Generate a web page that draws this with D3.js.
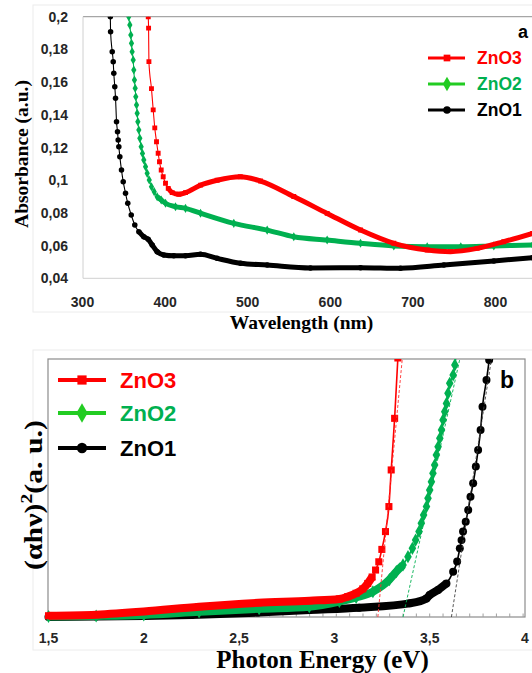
<!DOCTYPE html>
<html>
<head>
<meta charset="utf-8">
<script src="https://cdn.jsdelivr.net/npm/d3@7"></script>
<style>
  body { margin: 0; background: #fff; }
  svg { display: block; }
</style>
</head>
<body>
<script>

// ---- panel a : absorbance vs wavelength ----
const absTicks = [0.04, 0.06, 0.08, 0.1, 0.12, 0.14, 0.16, 0.18, 0.2];
const absTickLabels = ['0,04', '0,06', '0,08', '0,1', '0,12', '0,14', '0,16', '0,18', '0,2'];
const wlTicks = [300, 400, 500, 600, 700, 800];

// [wavelength nm, absorbance]
const zno3Abs = [[379.2,0.21],[379.6,0.2],[380,0.193],[380.4,0.1725],[383.5,0.156],[385.6,0.143],[387.5,0.132],
  [389.6,0.1235],[391.6,0.1165],[393.2,0.1113],[395.3,0.1062],[397.7,0.1021],[400.5,0.0981],[403.8,0.095],
  [408.6,0.0924],[416.6,0.0914],[424.7,0.0924],[443,0.097],[463,0.1],[491,0.1021],[515.5,0.0995],
  [555.8,0.09],[596.2,0.0797],[636.6,0.0695],[676.9,0.0614],[717.3,0.0573],[745.5,0.0563],[777.8,0.0583],
  [810,0.0624],[845,0.0675]];

const zno2Abs = [[355.6,0.207],[356,0.2],[357.3,0.195],[358.5,0.1888],[359.3,0.1837],[360.1,0.1786],[361.4,0.1735],
  [362.1,0.1674],[362.9,0.1613],[363.8,0.1562],[364.5,0.151],[365.4,0.146],[366.2,0.1409],[367,0.1358],
  [368.2,0.1307],[369.4,0.1256],[371,0.1205],[372.6,0.1164],[374.2,0.1124],[376.3,0.1083],[378.3,0.1042],
  [380.8,0.1001],[383.5,0.096],[386.8,0.093],[390.4,0.0899],[395.3,0.0879],[400.5,0.0859],[412.6,0.0838],
  [424.7,0.0828],[442.9,0.0798],[483.2,0.0736],[523.6,0.0695],[555.8,0.0654],[596.2,0.0634],[636.6,0.0614],
  [676.9,0.0598],[717.3,0.0593],[758,0.0593],[798,0.0598],[845,0.0604]];

const zno1Abs = [[333.4,0.208],[333.7,0.2],[334,0.1908],[336,0.1786],[337.2,0.1725],[337.9,0.1654],[339.1,0.1572],
  [340,0.1501],[341.2,0.1358],[342.4,0.1297],[343.2,0.1246],[344,0.1205],[345.2,0.1144],[347.2,0.1062],
  [349.3,0.0991],[352.1,0.092],[354.8,0.0859],[359,0.0787],[363.3,0.0726],[368.2,0.0685],[374.2,0.0654],
  [379.5,0.0639],[384.4,0.0604],[390.4,0.0563],[398.4,0.0543],[410.5,0.0538],[424.7,0.0538],[442.9,0.0547],
  [463,0.0522],[491.3,0.0492],[523.6,0.0481],[576,0.0463],[636.6,0.0465],[685,0.0461],[737.5,0.0481],
  [798,0.0506],[845,0.0526]];

// ---- panel b : Tauc plot ----
const energyTicks = [1.5, 2, 2.5, 3, 3.5, 4];
const energyTickLabels = ['1,5', '2', '2,5', '3', '3,5', '4'];

// [photon energy eV, (alpha h nu)^2 arbitrary units]
const zno3Tauc = [[1.5,0.005],[1.75,0.009],[2.0,0.021],[2.29,0.04],[2.6,0.055],[2.87,0.063],[3.026,0.07],
  [3.07,0.079],[3.114,0.092],[3.149,0.109],[3.175,0.13],[3.198,0.155],[3.216,0.182],[3.233,0.214],
  [3.249,0.262],[3.268,0.331],[3.286,0.428],[3.298,0.57],[3.316,0.77],[3.333,1.004],[3.345,1.15]];

const zno2Tauc = [[1.5,0.002],[1.75,0.004],[2.0,0.008],[2.29,0.02],[2.605,0.032],[2.868,0.04],[3.026,0.06],
  [3.114,0.076],[3.202,0.098],[3.289,0.145],[3.325,0.176],[3.36,0.202],[3.386,0.234],[3.409,0.266],
  [3.426,0.298],[3.444,0.331],[3.456,0.363],[3.468,0.395],[3.483,0.428],[3.491,0.46],[3.5,0.492],
  [3.509,0.524],[3.517,0.557],[3.526,0.589],[3.535,0.628],[3.544,0.66],[3.553,0.693],[3.562,0.725],
  [3.57,0.764],[3.579,0.796],[3.588,0.828],[3.596,0.867],[3.605,0.906],[3.623,0.938],[3.632,0.977],[3.645,1.06]];

const zno1Tauc = [[1.5,0.0],[1.75,0.002],[2.0,0.004],[2.25,0.008],[2.6,0.017],[2.87,0.027],[3.13,0.036],
  [3.395,0.053],[3.483,0.072],[3.5,0.085],[3.544,0.105],[3.588,0.13],[3.623,0.175],[3.644,0.215],
  [3.658,0.266],[3.667,0.298],[3.675,0.331],[3.689,0.369],[3.702,0.415],[3.714,0.466],[3.728,0.518],
  [3.742,0.583],[3.754,0.647],[3.767,0.725],[3.777,0.815],[3.798,0.919],[3.812,0.996],[3.822,1.06]];

// linear fits (band gap extrapolation)
const zno3Fit = [[3.228,0],[3.356,1]];
const zno2Fit = [[3.36,0],[3.658,1]];
const zno1Fit = [[3.614,0],[3.824,1]];

const seriesNames = ['ZnO3', 'ZnO2', 'ZnO1'];

let width = 532, height = 673;

let svg = d3.select('body')
            .append('svg')
            .attr('width', width)
            .attr('height', height)

const styles = {
  ZnO3: { color: '#ff0000', text: '#ff0000', legend: '#ff0000', symbol: d3.symbolSquare },
  ZnO2: { color: '#00b050', text: '#00b050', legend: '#22cc22', symbol: d3.symbolDiamond },
  ZnO1: { color: '#000000', text: '#000000', legend: '#000000', symbol: d3.symbolCircle }
};

const sans = '"Liberation Sans", Arial, sans-serif';
const serif = '"Liberation Serif", "Times New Roman", serif';

// draws one series: thin line everywhere, thick band where the curve is flat (dense markers), markers at points
function drawSeries(g, data, x, y, st, opt) {
  let pts = data.map(d => [x(d[0]), y(d[1])]);
  let flat = pts.map((p, i) => {
    let shallow = q => q && Math.abs(q[1] - p[1]) < 1.5 * Math.abs(q[0] - p[0]);
    return shallow(pts[i - 1]) || shallow(pts[i + 1]);
  });
  let line = d3.line()
               .x(d => x(d[0]))
               .y(d => y(d[1]))
               .curve(d3.curveMonotoneX);

  g.append('path')
   .attr('d', line(data))
   .attr('fill', 'none')
   .attr('stroke', st.color)
   .attr('stroke-width', opt.thin);

  g.append('path')
   .attr('d', line.defined((d, i) => flat[i])(data))
   .attr('fill', 'none')
   .attr('stroke', st.color)
   .attr('stroke-width', opt.band)
   .attr('stroke-linejoin', 'round');

  g.selectAll(null)
   .data(data)
   .enter()
   .append('path')
   .attr('transform', d => `translate(${x(d[0])},${y(d[1])})`)
   .attr('d', d3.symbol().type(st.symbol).size(opt.marker))
   .attr('fill', st.color);
}

// ================= panel a =================
svg.append('rect')
   .attr('x', 33).attr('y', 5).attr('width', 510).attr('height', 307)
   .attr('fill', 'none').attr('stroke', '#ececec');

let xA = d3.scaleLinear().domain([300, 850]).range([82.5, 536.8]);
let yA = d3.scaleLinear().domain([0.04, 0.2]).range([278.3, 16.7]);

svg.append('line')
   .attr('x1', 83).attr('x2', 532).attr('y1', yA(0.2)).attr('y2', yA(0.2))
   .attr('stroke', '#a6a6a6').attr('stroke-width', 1.3);
svg.append('line')
   .attr('x1', 83).attr('x2', 83).attr('y1', yA(0.2)).attr('y2', yA(0.04))
   .attr('stroke', '#d0d0d0');
svg.append('line')
   .attr('x1', 83).attr('x2', 532).attr('y1', yA(0.04)).attr('y2', yA(0.04))
   .attr('stroke', '#d0d0d0');

svg.append('clipPath').attr('id', 'clipA')
   .append('rect').attr('x', 83).attr('y', yA(0.2)).attr('width', 460).attr('height', 268);

let gA = svg.append('g').attr('clip-path', 'url(#clipA)');
let optA = { thin: 1.1, band: 5, marker: 24 };
drawSeries(gA, zno1Abs, xA, yA, styles.ZnO1, optA);
drawSeries(gA, zno2Abs, xA, yA, styles.ZnO2, optA);
drawSeries(gA, zno3Abs, xA, yA, styles.ZnO3, optA);

svg.append('g')
   .selectAll('text')
   .data(absTicks)
   .enter()
   .append('text')
   .attr('x', 68)
   .attr('y', d => yA(d))
   .attr('dy', '0.36em')
   .attr('text-anchor', 'end')
   .style('font', `bold 14px ${sans}`)
   .style('fill', '#262626')
   .text((d, i) => absTickLabels[i]);

svg.append('g')
   .selectAll('text')
   .data(wlTicks)
   .enter()
   .append('text')
   .attr('x', d => xA(d))
   .attr('y', 307)
   .attr('text-anchor', 'middle')
   .style('font', `bold 14px ${sans}`)
   .style('fill', '#262626')
   .text(d => d);

svg.append('text')
   .attr('x', 301.5)
   .attr('y', 329)
   .attr('text-anchor', 'middle')
   .style('font', `bold 19.5px ${serif}`)
   .text('Wavelength (nm)');

svg.append('text')
   .attr('transform', 'translate(28,154) rotate(-90)')
   .attr('text-anchor', 'middle')
   .style('font', `bold 19.5px ${serif}`)
   .text('Absorbance (a.u.)');

svg.append('text')
   .attr('x', 518).attr('y', 38)
   .style('font', `bold 18px ${sans}`)
   .text('a');

let legendA = svg.append('g');
seriesNames.forEach((name, i) => {
  let st = styles[name];
  let yy = 58 + i * 26;
  legendA.append('line')
         .attr('x1', 428).attr('x2', 465).attr('y1', yy).attr('y2', yy)
         .attr('stroke', st.legend).attr('stroke-width', 3);
  legendA.append('path')
         .attr('transform', `translate(447,${yy})`)
         .attr('d', d3.symbol().type(st.symbol).size(name === 'ZnO2' ? 60 : 45))
         .attr('fill', st.legend);
  legendA.append('text')
         .attr('x', 477).attr('y', yy).attr('dy', '0.36em')
         .style('font', `bold 17.5px ${sans}`)
         .style('fill', st.text)
         .text(name);
});

// ================= panel b =================
svg.append('rect')
   .attr('x', 33).attr('y', 350).attr('width', 510).attr('height', 300)
   .attr('fill', 'none').attr('stroke', '#ececec');

let xB = d3.scaleLinear().domain([1.5, 4]).range([48.5, 525]);
let yB = d3.scaleLinear().domain([0, 1]).range([617, 359]);

svg.append('rect')
   .attr('x', 48).attr('y', 359).attr('width', 477).attr('height', 258)
   .attr('fill', 'none').attr('stroke', '#8c8c8c').attr('stroke-width', 1.2);

// small inner ticks along the energy axis
svg.append('g')
   .selectAll('line')
   .data(d3.range(3.5 - 0.07 * 27, 4, 0.07))
   .enter()
   .append('line')
   .attr('x1', d => xB(d)).attr('x2', d => xB(d))
   .attr('y1', 617).attr('y2', 613.5)
   .attr('stroke', '#a0a0a0');

svg.append('clipPath').attr('id', 'clipB')
   .append('rect').attr('x', 40).attr('y', 359).attr('width', 485).attr('height', 266);

let gB = svg.append('g').attr('clip-path', 'url(#clipB)');
let optB = { thin: 1.6, band: 8, marker: 50 };
drawSeries(gB, zno1Tauc, xB, yB, styles.ZnO1, optB);
drawSeries(gB, zno2Tauc, xB, yB, styles.ZnO2, optB);
drawSeries(gB, zno3Tauc, xB, yB, styles.ZnO3, optB);

let fitLine = d3.line().x(d => xB(d[0])).y(d => yB(d[1]));
[[zno3Fit, '#ff3030'], [zno2Fit, '#00b050'], [zno1Fit, '#444']].forEach(f => {
  gB.append('path')
    .attr('d', fitLine(f[0]))
    .attr('fill', 'none')
    .attr('stroke', f[1])
    .attr('stroke-width', 0.9)
    .attr('stroke-dasharray', '3,2');
});

svg.append('g')
   .selectAll('text')
   .data(energyTicks)
   .enter()
   .append('text')
   .attr('x', d => xB(d))
   .attr('y', 643)
   .attr('text-anchor', 'middle')
   .style('font', `bold 14px ${sans}`)
   .style('fill', '#262626')
   .text((d, i) => energyTickLabels[i]);

svg.append('text')
   .attr('x', 322.5)
   .attr('y', 668)
   .attr('text-anchor', 'middle')
   .style('font', `bold 25px ${serif}`)
   .text('Photon Energy (eV)');

let yTitleB = svg.append('text')
   .attr('transform', 'translate(42,495) rotate(-90)')
   .attr('text-anchor', 'middle')
   .attr('textLength', 150)
   .attr('lengthAdjust', 'spacingAndGlyphs')
   .style('font', `bold 26px ${serif}`);
yTitleB.append('tspan').text('(\u03b1h\u03bd)');
yTitleB.append('tspan').attr('dy', -10).style('font-size', '17px').text('2');
yTitleB.append('tspan').attr('dy', 10).text('(a. u.)');

svg.append('text')
   .attr('x', 500).attr('y', 388)
   .style('font', `bold 23px ${sans}`)
   .text('b');

let legendB = svg.append('g');
seriesNames.forEach((name, i) => {
  let st = styles[name];
  let yy = [380, 413, 448][i];
  legendB.append('line')
         .attr('x1', 58).attr('x2', 106).attr('y1', yy).attr('y2', yy)
         .attr('stroke', st.legend).attr('stroke-width', 4);
  legendB.append('path')
         .attr('transform', `translate(82,${yy})`)
         .attr('d', d3.symbol().type(st.symbol).size(name === 'ZnO2' ? 110 : 85))
         .attr('fill', st.legend);
  legendB.append('text')
         .attr('x', 120).attr('y', yy).attr('dy', '0.36em')
         .style('font', `bold 22px ${sans}`)
         .style('fill', st.text)
         .text(name);
});

</script>
